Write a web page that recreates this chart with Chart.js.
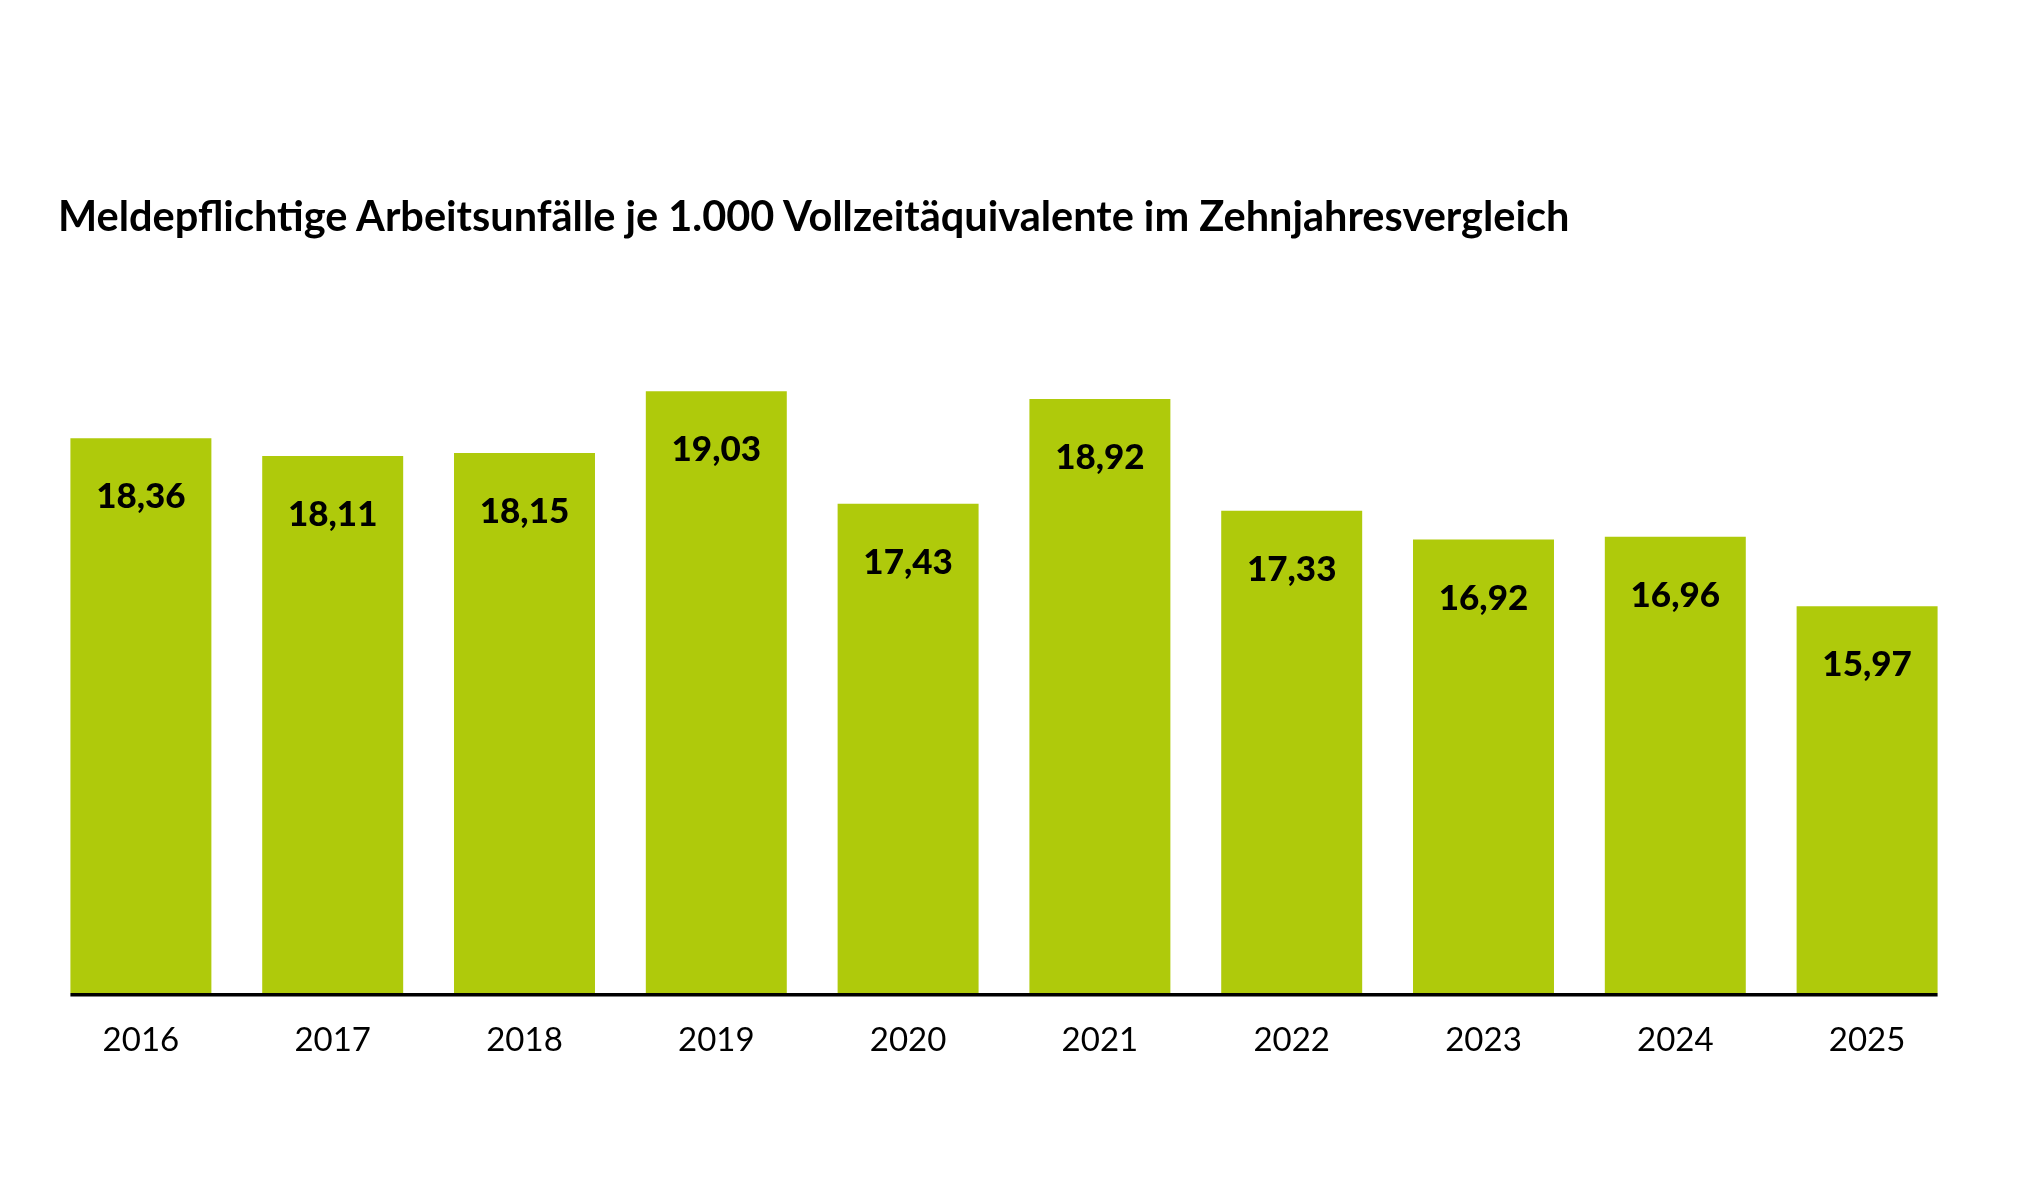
<!DOCTYPE html>
<html lang="de">
<head>
<meta charset="utf-8">
<title>Meldepflichtige Arbeitsunfälle je 1.000 Vollzeitäquivalente</title>
<script src="https://cdn.jsdelivr.net/npm/chart.js@4/dist/chart.umd.min.js"></script>
<style>
  html, body { margin: 0; padding: 0; background: #fff; }
  #wrap { position: relative; width: 2021px; height: 1204px; }
  #chart-box { position: absolute; left: 0; top: 0; width: 2021px; height: 1204px; }
  #title {
    position: absolute; left: 58px; top: 195px; margin: 0;
    font: 700 41.5px/41px Lato, sans-serif; color: #000; white-space: nowrap;
  }
</style>
</head>
<body>
<div id="wrap">
  <div id="chart-box"><canvas id="chart"></canvas></div>
  <h1 id="title">Meldepflichtige Arbeitsunfälle je 1.000 Vollzeitäquivalente im Zehnjahresvergleich</h1>
</div>
<script>
// ── Data ────────────────────────────────────────────────────────────────────────
const years = ['2016', '2017', '2018', '2019', '2020', '2021', '2022', '2023', '2024', '2025'];
const rates = [18.36, 18.11, 18.15, 19.03, 17.43, 18.92, 17.33, 16.92, 16.96, 15.97];

const GREEN = '#afca0b';
const INK   = '#000';

const fmt = v => v.toFixed(2).replace('.', ',');

// value written inside the top of each bar
const valueLabels = {
  id: 'valueLabels',
  afterDatasetsDraw(chart) {
    const ctx = chart.ctx;
    const meta = chart.getDatasetMeta(0);
    ctx.save();
    ctx.fillStyle = INK;
    ctx.font = '900 35px Lato, sans-serif';
    ctx.textAlign = 'center';
    ctx.textBaseline = 'alphabetic';
    meta.data.forEach((bar, i) => {
      ctx.fillText(fmt(rates[i]), bar.x, bar.y + 70);
    });
    ctx.restore();
  }
};

// black base line running from first to last bar edge
const baseLine = {
  id: 'baseLine',
  afterDatasetsDraw(chart) {
    const ctx  = chart.ctx;
    const bars = chart.getDatasetMeta(0).data;
    if (!bars.length) return;
    const first = bars[0], last = bars[bars.length - 1];
    const y = chart.chartArea.bottom + 1.75;
    ctx.save();
    ctx.strokeStyle = INK;
    ctx.lineWidth = 3.5;
    ctx.beginPath();
    ctx.moveTo(first.x - first.width / 2, y);
    ctx.lineTo(last.x + last.width / 2, y);
    ctx.stroke();
    ctx.restore();
  }
};

new Chart(document.getElementById('chart').getContext('2d'), {
  type: 'bar',
  data: {
    labels: years,
    datasets: [{
      data: rates,
      backgroundColor: GREEN,
      borderWidth: 0,
      categoryPercentage: 1,
      barPercentage: 0.735,
    }]
  },
  options: {
    responsive: true,
    maintainAspectRatio: false,
    animation: false,
    layout: { padding: { left: 45, right: 58, top: 323, bottom: 131 } },
    plugins: {
      legend: { display: false },
      tooltip: { enabled: false },
    },
    scales: {
      x: {
        grid: { display: false, drawTicks: false },
        border: { display: false },
        ticks: { color: INK, padding: 28, font: { family: 'Lato', size: 33 } },
        afterFit: s => { s.height = 80; },
      },
      y: {
        display: false,
        min: 10.47,
        max: 20,
      }
    }
  },
  plugins: [valueLabels, baseLine]
});
</script>
</body>
</html>
